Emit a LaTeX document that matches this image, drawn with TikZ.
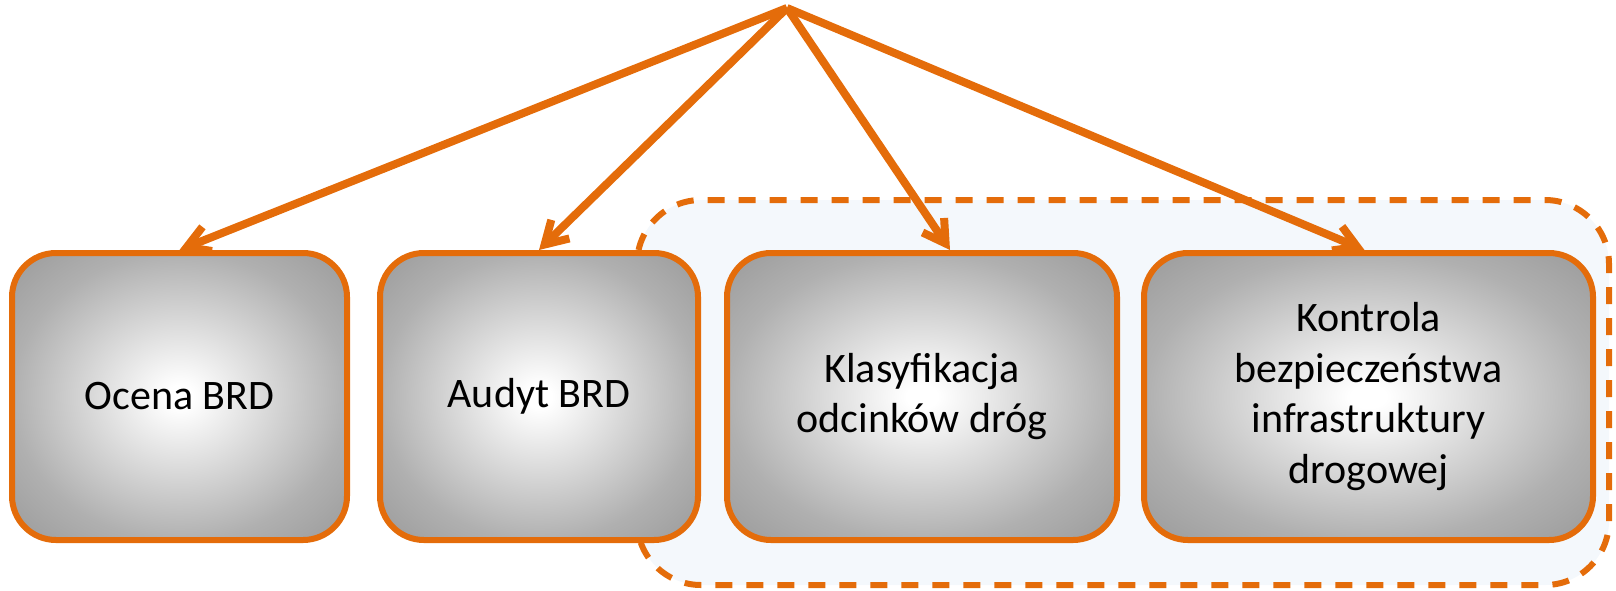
\documentclass[tikz,border=0pt]{standalone}
\usepackage{fontspec}
\setmainfont{Carlito}
\usetikzlibrary{arrows.meta}
\definecolor{brdorange}{HTML}{E46C0A}
\definecolor{brdblue}{HTML}{F4F8FC}
\pgfdeclareradialshading{boxglow}{\pgfpointorigin}{color(0bp)=(white); color(2bp)=(white); color(25bp)=(black!31); color(36bp)=(black!40); color(50bp)=(black!40)}

\begin{document}
\begin{tikzpicture}[x=0.5pt,y=-0.5pt,
    box/.style={draw=brdorange, line width=3pt, rounded corners=22pt, shade, shading=boxglow,
        minimum height=143.5pt, align=center, inner sep=0pt, font=\fontsize{21pt}{25.4pt}\selectfont},
    link/.style={draw=brdorange, line width=4pt, -{Straight Barb[length=11pt,width=13pt]}}]
    \useasboundingbox (0,0) rectangle (1616,590);
    % Group frame
    \draw[brdorange, fill=brdblue, line width=3pt, dash pattern=on 8.5pt off 7pt, rounded corners=32pt]
        (637,200) rectangle (1609,585);
    % Boxes
    \node[box, minimum width=167.5pt] (ocena) at (179.5,396.5) {Ocena BRD};
    \node[box, minimum width=159pt] (audyt) at (539,396.5) {Audyt BRD};
    \node[box, minimum width=195pt] (klas) at (922,396.5) {Klasyfikacja\\odcinków dróg};
    \node[box, minimum width=224.5pt] (kontrola) at (1368.5,396.5) {Kontrola\\bezpieczeństwa\\infrastruktury\\drogowej};
    % Arrows
    \coordinate (top) at (787,8);
    \draw[link] (top) -- (ocena.north);
    \draw[link] (top) -- (audyt.north);
    \draw[link] (top) -- ([xshift=14pt]klas.north);
    \draw[link] (top) -- ([xshift=-2pt]kontrola.north);
\end{tikzpicture}
\end{document}
